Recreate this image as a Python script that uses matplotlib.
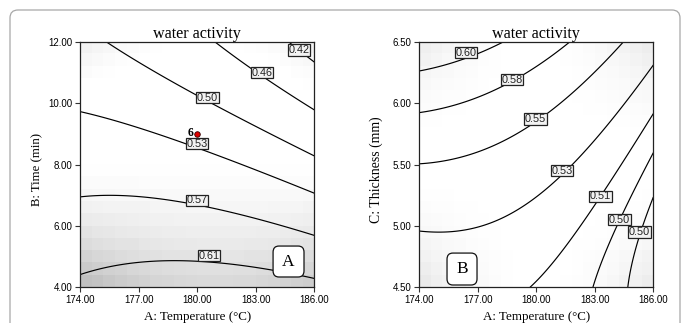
import numpy as np
import matplotlib.pyplot as plt
from matplotlib.patches import FancyBboxPatch

plt.rcParams['font.family'] = ['Liberation Serif', 'DejaVu Serif']

temp_ticks = [174, 177, 180, 183, 186]
time_ticks = [4, 6, 8, 10, 12]
thick_ticks = [4.5, 5.0, 5.5, 6.0, 6.5]

# quadratic response surface, coded units: b0, bA, bX, bAX, bAA, bXX
coef_time = [0.54090, -0.02435, -0.08211, -0.02508, -0.01209, 0.00709]
coef_thick = [0.53664, -0.02772, 0.04018, -0.01312, -0.01235, 0.01280]

levels_time = [0.42, 0.4582, 0.4970, 0.5299, 0.5687, 0.61]
labels_time = ['0.42', '0.46', '0.50', '0.53', '0.57', '0.61']
levels_thick = [0.4903, 0.4993, 0.51, 0.5269, 0.5523, 0.5768, 0.60]
labels_thick = ['0.50', '0.50', '0.51', '0.53', '0.55', '0.58', '0.60']

# background shading (darkness at coded corners/edges/centre, rows bottom->top)
shade_time = [[0.28, 0.16, 0.22], [0.0, 0.0, 0.0], [0.07, 0.0, 0.06]]
shade_thick = [[0.10, 0.0, 0.09], [0.0, 0.0, 0.0], [0.08, 0.0, 0.09]]

design_point = (180.0, 9.0)
design_count = '6'


def surface(coef, a, b):
    return (coef[0] + coef[1] * a + coef[2] * b + coef[3] * a * b
            + coef[4] * a * a + coef[5] * b * b)


def lagrange(x):
    return [x * (x - 1) / 2, 1 - x * x, x * (x + 1) / 2]


def shade_grid(table, n=20):
    c = (np.arange(n) + 0.5) / n * 2 - 1
    out = np.zeros((n, n))
    for i, b in enumerate(c):
        lb = lagrange(b)
        for j, a in enumerate(c):
            la = lagrange(a)
            out[i, j] = sum(table[r][k] * lb[r] * la[k] for r in range(3) for k in range(3))
    return 1 - np.clip(out, 0, 1)


def draw_panel(ax, coef, y_center, y_step, ylim, yticks, levels, labels,
               label_pos, ylabel, ylabel_size, shade, letter, letter_box):
    ax.imshow(shade_grid(shade), cmap='gray', vmin=0, vmax=1, origin='lower',
              extent=(174, 186, ylim[0], ylim[1]), aspect='auto',
              interpolation='nearest', zorder=0)
    T, Y = np.meshgrid(np.linspace(174, 186, 300), np.linspace(ylim[0], ylim[1], 300))
    Z = surface(coef, (T - 180) / 6, (Y - y_center) / y_step)
    ax.contour(T, Y, Z, levels=levels, colors='k', linewidths=0.85, zorder=2)
    for lab, (x, y) in zip(labels, label_pos):
        ax.text(x, y, lab, ha='center', va='center', fontsize=7.8,
                family='Liberation Sans', color='#222222', zorder=4,
                bbox=dict(boxstyle='square,pad=0.06', fc='#f2f2f2', ec='#222222', lw=0.9))

    ax.set_xlim(174, 186)
    ax.set_ylim(*ylim)
    ax.set_xticks(temp_ticks)
    ax.set_xticklabels(['%.2f' % v for v in temp_ticks], family='Liberation Sans', fontsize=7)
    ax.set_yticks(yticks)
    ax.set_yticklabels(['%.2f' % v for v in yticks], family='Liberation Sans', fontsize=7)
    ax.tick_params(direction='out', length=3.5, width=0.8, pad=2, color='#333333')
    for s in ax.spines.values():
        s.set_linewidth(0.9)
        s.set_color('#222222')

    ax.set_title('water activity', fontsize=11.6, pad=2.5)
    ax.set_xlabel('A: Temperature (\u00b0C)', fontsize=9.4)
    ax.xaxis.set_label_coords(0.5, -0.095)
    ax.set_ylabel(ylabel, fontsize=ylabel_size)
    ax.yaxis.set_label_coords(-0.155, 0.48)

    bx, by, bw, bh = letter_box
    ax.add_patch(FancyBboxPatch((bx, by), bw, bh, boxstyle='round,pad=0,rounding_size=0.025',
                                transform=ax.transAxes, fc='white', ec='#111111', lw=0.9,
                                zorder=5))
    ax.text(bx + bw / 2, by + bh / 2, letter, transform=ax.transAxes, ha='center',
            va='center', fontsize=12.5, zorder=6)


fig = plt.figure(figsize=(6.83, 3.23), dpi=100)

# rounded frame around the whole figure
fig.patches.append(FancyBboxPatch((0.1, -0.5), 6.7, 3.63,
                                  boxstyle='round,pad=0,rounding_size=0.08',
                                  transform=fig.dpi_scale_trans, fc='none',
                                  ec='#a8a8a8', lw=0.9))

ax1 = fig.add_axes([0.1171, 0.1105, 0.3431, 0.7604])
draw_panel(ax1, coef_time, 8, 4, (4, 12), time_ticks, levels_time, labels_time,
           [(185.23, 11.73), (183.31, 10.99), (180.52, 10.18), (180.0, 8.68),
            (180.0, 6.83), (180.6, 5.03)],
           'B: Time (min)', 9.2, shade_time, 'A', (0.824, 0.042, 0.132, 0.126))
ax1.plot(*design_point, 'o', ms=4, mfc='#e00000', mec='#330000', mew=0.6, zorder=5)
ax1.text(design_point[0] - 0.2, design_point[1] + 0.04, design_count, ha='right',
         va='center', fontsize=8.5, fontweight='bold', zorder=5)

ax2 = fig.add_axes([0.6135, 0.1105, 0.3431, 0.7604])
draw_panel(ax2, coef_thick, 5.5, 1, (4.5, 6.5), thick_ticks, levels_thick, labels_thick,
           [(185.29, 4.95), (184.27, 5.05), (183.28, 5.24), (181.32, 5.45),
            (179.97, 5.87), (178.76, 6.19), (176.39, 6.41)],
           'C: Thickness (mm)', 9.9, shade_thick, 'B', (0.1195, 0.0094, 0.128, 0.130))

fig.savefig('out.png', dpi=100)
